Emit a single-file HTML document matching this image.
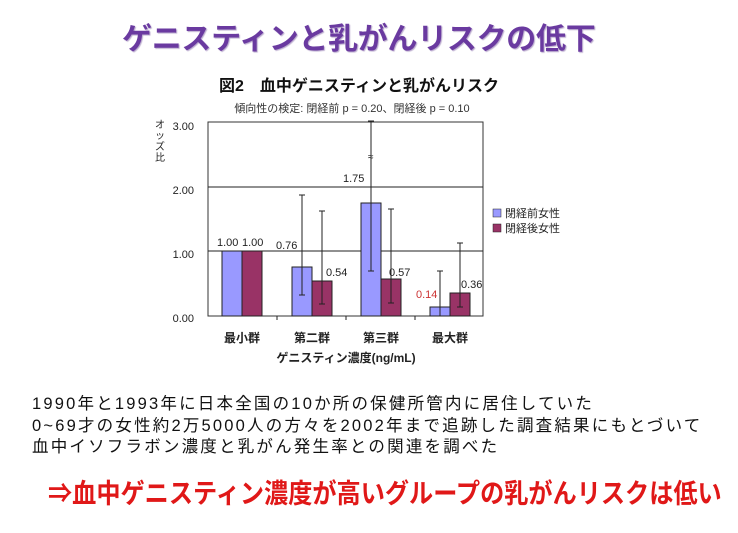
<!DOCTYPE html>
<html><head><meta charset="utf-8"><style>
body{margin:0;width:738px;height:533px;background:#fff;overflow:hidden;position:relative;font-family:"Liberation Sans","Noto Sans CJK JP",sans-serif}
.t{position:absolute;white-space:nowrap}
</style></head><body>
<div class="t" style="left:122px;top:22px;font-size:30px;line-height:36px;color:#6a3aa0;font-weight:bold;letter-spacing:-0.3px;text-shadow:1px 1px 1px #b8a8cc">ゲニスティンと乳がんリスクの低下</div>
<svg width="738" height="533" style="position:absolute;left:0;top:0" font-family="Liberation Sans, Noto Sans CJK JP, sans-serif">
<text x="359" y="91" font-size="16" font-weight="bold" text-anchor="middle" fill="#111">図2　血中ゲニスティンと乳がんリスク</text>
<text x="352" y="112" font-size="11" text-anchor="middle" fill="#333">傾向性の検定:  閉経前  p = 0.20、閉経後  p = 0.10</text>
<rect x="208" y="122" width="275" height="194" fill="#fff" stroke="#333" stroke-width="1"/>
<line x1="208" y1="187" x2="483" y2="187" stroke="#222"/>
<line x1="208" y1="251" x2="483" y2="251" stroke="#222"/>
<g font-size="11" fill="#222" text-anchor="end">
<text x="194" y="130">3.00</text><text x="194" y="194">2.00</text><text x="194" y="258">1.00</text><text x="194" y="322">0.00</text>
</g>
<text font-size="10" fill="#222" x="155" y="128">オ</text><text font-size="10" fill="#222" x="155" y="139">ッ</text><text font-size="10" fill="#222" x="155" y="150">ズ</text><text font-size="10" fill="#222" x="155" y="161">比</text>
<g stroke="#222" stroke-width="1">
<rect x="222" y="251" width="20" height="65" fill="#9999ff"/>
<rect x="242" y="251" width="20" height="65" fill="#993366"/>
<rect x="292" y="267" width="20" height="49" fill="#9999ff"/>
<rect x="312" y="281" width="20" height="35" fill="#993366"/>
<rect x="361" y="203" width="20" height="113" fill="#9999ff"/>
<rect x="381" y="279" width="20" height="37" fill="#993366"/>
<rect x="430" y="307" width="20" height="9" fill="#9999ff"/>
<rect x="450" y="293" width="20" height="23" fill="#993366"/>
<line x1="302" y1="195" x2="302" y2="295"/><line x1="299" y1="195" x2="305" y2="195"/><line x1="299" y1="295" x2="305" y2="295"/>
<line x1="322" y1="211" x2="322" y2="304"/><line x1="319" y1="211" x2="325" y2="211"/><line x1="319" y1="304" x2="325" y2="304"/>
<line x1="371" y1="121" x2="371" y2="271"/><line x1="368" y1="121" x2="374" y2="121"/><line x1="368" y1="271" x2="374" y2="271"/>
<line x1="391" y1="209" x2="391" y2="303"/><line x1="388" y1="209" x2="394" y2="209"/><line x1="388" y1="303" x2="394" y2="303"/>
<line x1="440" y1="271" x2="440" y2="316"/><line x1="437" y1="271" x2="443" y2="271"/>
<line x1="460" y1="243" x2="460" y2="307"/><line x1="457" y1="243" x2="463" y2="243"/><line x1="457" y1="307" x2="463" y2="307"/>
<line x1="277" y1="316" x2="277" y2="320"/><line x1="346" y1="316" x2="346" y2="320"/><line x1="415" y1="316" x2="415" y2="320"/>
</g>
<text x="368" y="160" font-size="10" fill="#222">≈</text>
<g font-size="11" fill="#222">
<text x="217" y="246">1.00</text><text x="242" y="246">1.00</text>
<text x="276" y="249">0.76</text><text x="326" y="276">0.54</text>
<text x="343" y="182">1.75</text><text x="389" y="276">0.57</text>
<text x="461" y="288">0.36</text>
<text x="416" y="298" fill="#cc3333">0.14</text>
</g>
<g font-size="12" font-weight="bold" fill="#222" text-anchor="middle">
<text x="242" y="342">最小群</text><text x="312" y="342">第二群</text><text x="381" y="342">第三群</text><text x="450" y="342">最大群</text>
</g>
<text x="346" y="362" font-size="12" font-weight="bold" fill="#222" text-anchor="middle">ゲニスティン濃度(ng/mL)</text>
<rect x="493" y="209" width="8" height="8" fill="#9999ff" stroke="#222" stroke-width="0.5"/>
<rect x="493" y="224" width="8" height="8" fill="#993366" stroke="#222" stroke-width="0.5"/>
<text x="505" y="217" font-size="11" fill="#222">閉経前女性</text>
<text x="505" y="232" font-size="11" fill="#222">閉経後女性</text>
</svg>
<div class="t" style="left:32px;top:394px;font-size:16.5px;line-height:21.5px;color:#111;letter-spacing:2.2px">1990年と1993年に日本全国の10か所の保健所管内に居住していた<br>0~69才の女性約2万5000人の方々を2002年まで追跡した調査結果にもとづいて<br>血中イソフラボン濃度と乳がん発生率との関連を調べた</div>
<div class="t" style="left:48px;top:478px;font-size:27px;line-height:32px;color:#e01818;font-weight:bold;transform:scaleX(0.895);transform-origin:0 0">⇒血中ゲニスティン濃度が高いグループの乳がんリスクは低い</div>
</body></html>
